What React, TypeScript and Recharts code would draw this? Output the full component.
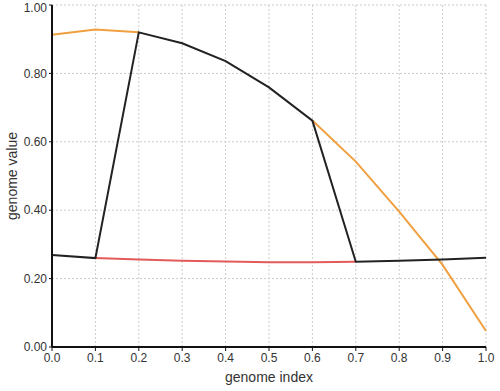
import { LineChart, Line, XAxis, YAxis, CartesianGrid, Label } from 'recharts';

// genome positions along the x axis
const genomeIndex = [0, 0.1, 0.2, 0.3, 0.4, 0.5, 0.6, 0.7, 0.8, 0.9, 1.0];

// first parent (orange), only visible where the child took its genes
const parentA = [0.913, 0.928, 0.92, null, null, null, 0.662, 0.542, 0.396, 0.24, 0.047];

// second parent (red), middle section only
const parentB = [null, 0.26, 0.256, 0.252, 0.25, 0.248, 0.248, 0.249, null, null, null];

// child genome (black)
const child = [0.269, 0.26, 0.92, 0.888, 0.836, 0.759, 0.662, 0.249, 0.252, 0.256, 0.261];

const xTicks = [0, 0.1, 0.2, 0.3, 0.4, 0.5, 0.6, 0.7, 0.8, 0.9, 1.0];
const yTicks = [0, 0.2, 0.4, 0.6, 0.8, 1.0];

const data = genomeIndex.map((x, i) => ({
  x,
  parentA: parentA[i],
  parentB: parentB[i],
  child: child[i],
}));

const font = 'Liberation Sans, Arial, sans-serif';
const tickStyle = { fontSize: 12, fill: '#333', fontFamily: font };

export default function App() {
  return (
    <div style={{ position: 'fixed', left: 0, top: 0, width: 500, height: 391, background: '#fff' }}>
      <LineChart width={500} height={391} data={data} margin={{ top: 5, right: 14, left: 0, bottom: 0 }}>
        <CartesianGrid stroke="#ccc" strokeDasharray="2 2" />
        <XAxis
          dataKey="x"
          type="number"
          domain={[0, 1]}
          ticks={xTicks}
          tickFormatter={(v: number) => v.toFixed(1)}
          height={44}
          axisLine={{ stroke: '#111', strokeWidth: 2 }}
          tickLine={{ stroke: '#111' }}
          tickSize={4}
          tick={tickStyle}
        >
          <Label
            value="genome index"
            position="insideBottom"
            offset={9}
            style={{ fontSize: 14, fill: '#333', fontFamily: font }}
          />
        </XAxis>
        <YAxis
          type="number"
          domain={[0, 1]}
          ticks={yTicks}
          tickFormatter={(v: number) => v.toFixed(2)}
          width={52}
          axisLine={{ stroke: '#111', strokeWidth: 2 }}
          tickLine={{ stroke: '#111' }}
          tickSize={3}
          tick={tickStyle}
        >
          <Label
            value="genome value"
            angle={-90}
            position="insideLeft"
            offset={12}
            style={{ textAnchor: 'middle', fontSize: 14, fill: '#333', fontFamily: font }}
          />
        </YAxis>
        <Line
          dataKey="parentA"
          stroke="#f0a040"
          strokeWidth={2}
          dot={false}
          connectNulls={false}
          isAnimationActive={false}
        />
        <Line
          dataKey="parentB"
          stroke="#e45a5a"
          strokeWidth={2}
          dot={false}
          connectNulls={false}
          isAnimationActive={false}
        />
        <Line
          dataKey="child"
          stroke="#222"
          strokeWidth={2}
          dot={false}
          isAnimationActive={false}
        />
      </LineChart>
    </div>
  );
}
